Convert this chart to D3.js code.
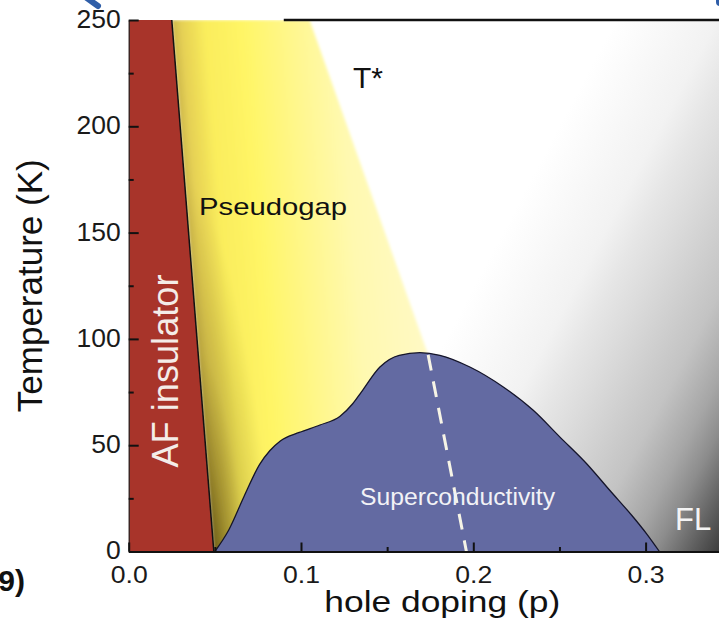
<!DOCTYPE html>
<html><head><meta charset="utf-8">
<script src="https://cdn.jsdelivr.net/npm/d3@7"></script>
<style>
html,body{margin:0;padding:0;background:#fff;overflow:hidden}
svg{display:block}
text{font-family:"Liberation Sans",Arial,Helvetica,sans-serif}
</style>
</head><body>
<svg id="c" width="719" height="635"></svg>
<script>
// ---------- data ----------
const xTicks = [0.0, 0.1, 0.2, 0.3];
const xTickLabels = ["0.0", "0.1", "0.2", "0.3"];
const xMinorTicks = [0.05, 0.15, 0.25];
const yTicks = [0, 50, 100, 150, 200, 250];
const yTickLabels = ["0", "50", "100", "150", "200", "250"];
const yMinorTicks = [25, 75, 125, 175, 225];
// AF insulator boundary (p, T)
const afBoundary = [[0.025, 250], [0.0494, 0]];
// T* pseudogap boundary (p, T); last point hidden under the dome
const tStarLine = [[0.105, 250], [0.1738, 92.5], [0.214, 0]];
// dashed continuation of T* inside the dome
const dashedLine = [[0.1738, 92.5], [0.196, 0]];
// superconducting dome Tc(p)
const scDomeP = [0.05, 0.058, 0.067, 0.076, 0.082, 0.088, 0.099, 0.111, 0.1225, 0.130, 0.135, 0.1458, 0.157, 0.169, 0.1806, 0.198, 0.2174, 0.2348, 0.2503, 0.2658, 0.2793, 0.2929, 0.3006, 0.308];
const scDomeT = [0, 10, 26, 41, 47.5, 52, 56, 59.5, 63.5, 69.5, 75, 86.8, 92.3, 93.5, 92.3, 86.8, 77.4, 66.4, 53.8, 41.3, 28.7, 16.1, 8.3, 0];
const labels = {x: "hole doping (p)", y: "Temperature (K)", af: "AF insulator", pg: "Pseudogap", tstar: "T*", sc: "Superconductivity", fl: "FL", corner: "9)"};

// ---------- setup ----------
const svg = d3.select("#c");
const x = d3.scaleLinear().domain([0, 0.3426]).range([128.7, 719]);
const y = d3.scaleLinear().domain([0, 250]).range([551.5, 20]);
const X0 = x.range()[0], X1 = x.range()[1], Y0 = y.range()[0], Y1 = y.range()[1];
const defs = svg.append("defs");

defs.append("clipPath").attr("id", "plotClip").append("rect")
  .attr("x", X0).attr("y", Y1).attr("width", X1 - X0).attr("height", Y0 - Y1);

// grey Fermi-liquid gradient (linear, toward lower right)
const gg = defs.append("linearGradient").attr("id", "greyGrad")
  .attr("gradientUnits", "userSpaceOnUse").attr("x1", 573).attr("y1", 100).attr("x2", 891).attr("y2", 269);
[[0, "#ffffff"], [90, "#f2f2f2"], [120, "#e6e6e6"], [150, "#dcdcdc"], [220, "#c3c3c3"], [260, "#a6a6a6"], [285, "#8c8c8c"], [317, "#5e5e5e"], [340, "#3e3e3e"], [360, "#2c2c2c"]]
  .forEach(s => gg.append("stop").attr("offset", s[0] / 360).attr("stop-color", s[1]));

// yellow gradient skewed along the AF boundary
const xa = x(afBoundary[0][0]), ya = y(afBoundary[0][1]);
const xb = x(afBoundary[1][0]), yb = y(afBoundary[1][1]);
const slope = (xb - xa) / (yb - ya);
const xOrigin = xa - slope * ya;
const skew = Math.atan(slope) * 180 / Math.PI;
const yg = defs.append("linearGradient").attr("id", "yelGrad")
  .attr("gradientUnits", "userSpaceOnUse").attr("x1", 0).attr("y1", 0).attr("x2", 235).attr("y2", 0)
  .attr("gradientTransform", `translate(${xOrigin},0) skewX(${skew})`);
[[0, "#cdb74c"], [0.04, "#e5d054"], [0.14, "#faed5c"], [0.3, "#fff566"], [0.5, "#fff78c"], [0.7, "#fff9b0"], [1, "#fff9c6"]]
  .forEach(s => yg.append("stop").attr("offset", s[0]).attr("stop-color", s[1]));

// dark shading near the bottom of the AF boundary
const dg = defs.append("radialGradient").attr("id", "darkGrad")
  .attr("gradientUnits", "userSpaceOnUse").attr("cx", 0).attr("cy", 0).attr("r", 1)
  .attr("gradientTransform", `translate(${xb},${yb + 8}) skewX(${skew}) scale(60,380)`);
[[0, "#3a2e00", 0.68], [0.25, "#4a3c00", 0.45], [0.55, "#4a3c00", 0.18], [1, "#4a3c00", 0]]
  .forEach(s => dg.append("stop").attr("offset", s[0]).attr("stop-color", s[1]).attr("stop-opacity", s[2]));

defs.append("filter").attr("id", "soft").attr("x", "-5%").attr("y", "-5%").attr("width", "110%").attr("height", "110%")
  .append("feGaussianBlur").attr("stdDeviation", 1.6);

const plot = svg.append("g").attr("clip-path", "url(#plotClip)");

// grey background
plot.append("rect").attr("x", X0).attr("y", Y1).attr("width", X1 - X0).attr("height", Y0 - Y1)
  .attr("fill", "url(#greyGrad)");

// pseudogap region
const lineGen = d3.line().x(d => x(d[0])).y(d => y(d[1]));
const pgPoly = [afBoundary[0], ...tStarLine, afBoundary[1]];
const pgG = plot.append("g").attr("filter", "url(#soft)");
pgG.append("path").attr("d", lineGen(pgPoly) + "Z").attr("fill", "url(#yelGrad)");
pgG.append("path").attr("d", lineGen(pgPoly) + "Z").attr("fill", "url(#darkGrad)");

// AF insulator region
const afPoly = [[0, 250], afBoundary[0], afBoundary[1], [0, 0]];
plot.append("path").attr("d", lineGen(afPoly) + "Z").attr("fill", "#a8342a");
plot.append("path").attr("d", lineGen(afBoundary)).attr("fill", "none")
  .attr("stroke", "#111").attr("stroke-width", 1.5);

// superconducting dome
const dome = scDomeP.map((p, i) => [p, scDomeT[i]]);
plot.append("path")
  .attr("d", d3.area().x(d => x(d[0])).y0(y(0)).y1(d => y(d[1])).curve(d3.curveMonotoneX)(dome))
  .attr("fill", "#636aa2");
plot.append("path")
  .attr("d", d3.line().x(d => x(d[0])).y(d => y(d[1])).curve(d3.curveMonotoneX)(dome))
  .attr("fill", "none").attr("stroke", "#15152a").attr("stroke-width", 1.3);

// dashed white line
plot.append("path").attr("d", lineGen(dashedLine)).attr("fill", "none")
  .attr("stroke", "#f6f4e6").attr("stroke-width", 3).attr("stroke-dasharray", "16,11");

// ---------- axes ----------
const fontFam = '"Liberation Sans",Arial,Helvetica,sans-serif';
const yAxis = svg.append("g").attr("transform", `translate(${X0},0)`)
  .call(d3.axisLeft(y).tickValues(yTicks).tickFormat((d, i) => yTickLabels[i]).tickSize(-10).tickSizeOuter(0).tickPadding(8));
yAxis.selectAll("text").attr("font-size", 26.5).attr("font-family", fontFam).attr("fill", "#1a1a1a").attr("dy", "0.28em");
yAxis.selectAll("line").attr("stroke", "#111").attr("stroke-width", 2);
yAxis.select(".domain").attr("stroke", "#222").attr("stroke-width", 1.2);

const yMinor = svg.append("g").attr("transform", `translate(${X0},0)`)
  .call(d3.axisLeft(y).tickValues(yMinorTicks).tickFormat("").tickSize(-5).tickSizeOuter(0));
yMinor.select(".domain").remove();
yMinor.selectAll("line").attr("stroke", "#111").attr("stroke-width", 2);

const xAxis = svg.append("g").attr("transform", `translate(0,${Y0})`)
  .call(d3.axisBottom(x).tickValues(xTicks).tickFormat((d, i) => xTickLabels[i]).tickSize(-9).tickSizeOuter(0).tickPadding(14.5));
xAxis.selectAll("text").attr("font-size", 24).attr("font-family", fontFam).attr("fill", "#1a1a1a")
  .attr("textLength", 37).attr("lengthAdjust", "spacingAndGlyphs");
xAxis.selectAll("line").attr("stroke", "#111").attr("stroke-width", 2);
xAxis.select(".domain").attr("stroke", "#111").attr("stroke-width", 2.2);

const xMinor = svg.append("g").attr("transform", `translate(0,${Y0})`)
  .call(d3.axisBottom(x).tickValues(xMinorTicks).tickFormat("").tickSize(-4.5).tickSizeOuter(0));
xMinor.select(".domain").remove();
xMinor.selectAll("line").attr("stroke", "#111").attr("stroke-width", 2);

// top border (partial)
svg.append("line").attr("x1", x(0.09)).attr("x2", X1).attr("y1", y(250)).attr("y2", y(250))
  .attr("stroke", "#111").attr("stroke-width", 2.6);

// ---------- text labels ----------
svg.append("text").attr("x", x(0.182)).attr("y", 612).attr("text-anchor", "middle")
  .attr("font-size", 29.5).attr("fill", "#111").attr("textLength", 236).attr("lengthAdjust", "spacingAndGlyphs")
  .text(labels.x);
svg.append("text").attr("transform", `translate(42,${y(125)}) rotate(-90)`).attr("text-anchor", "middle")
  .attr("font-size", 34.5).attr("fill", "#111").attr("textLength", 253).attr("lengthAdjust", "spacingAndGlyphs")
  .text(labels.y);
svg.append("text").attr("transform", `translate(178,${y(39.5)}) rotate(-90)`).attr("text-anchor", "start")
  .attr("font-size", 36).attr("fill", "#f4ece8").attr("textLength", 193).attr("lengthAdjust", "spacingAndGlyphs")
  .text(labels.af);
svg.append("text").attr("x", 199).attr("y", 215).attr("font-size", 24).attr("fill", "#111")
  .attr("textLength", 148).attr("lengthAdjust", "spacingAndGlyphs").text(labels.pg);
svg.append("text").attr("x", 353).attr("y", 88).attr("font-size", 30).attr("fill", "#111").text(labels.tstar);
svg.append("text").attr("x", 360).attr("y", 505).attr("font-size", 23).attr("fill", "#f2f2f6")
  .attr("textLength", 195).attr("lengthAdjust", "spacingAndGlyphs").text(labels.sc);
svg.append("text").attr("x", 675).attr("y", 530).attr("font-size", 31).attr("fill", "#f4f4f4").text(labels.fl);
svg.append("text").attr("x", 25).attr("y", 591).attr("text-anchor", "end").attr("font-size", 30)
  .attr("font-weight", "bold").attr("fill", "#111").text(labels.corner);

// small blue decorations cut by the frame
svg.append("path").attr("d", "M84,-4 L98,6").attr("stroke", "#2f5ea8").attr("stroke-width", 6)
  .attr("stroke-linecap", "round").attr("fill", "none");
svg.append("rect").attr("x", 716).attr("y", -5).attr("width", 9).attr("height", 11).attr("rx", 4)
  .attr("fill", "#2f5ea8");
</script>
</body></html>
